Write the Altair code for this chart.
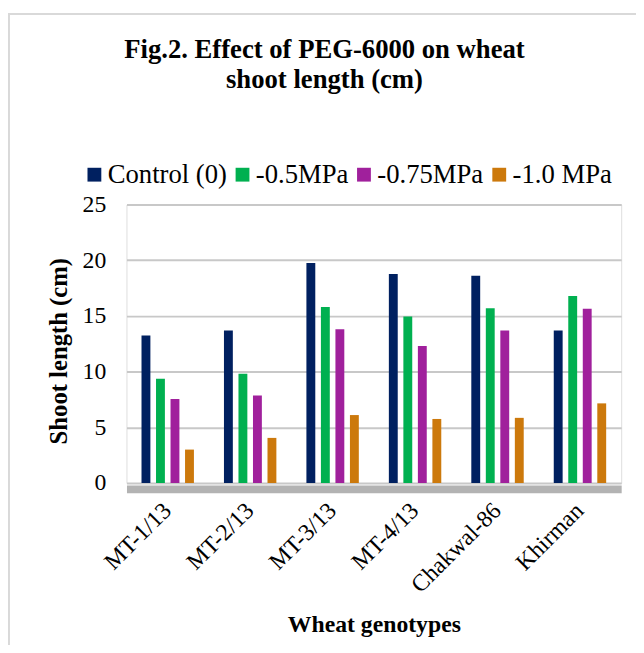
import altair as alt
import pandas as pd

genotypes = ["MT-1/13", "MT-2/13", "MT-3/13", "MT-4/13", "Chakwal-86", "Khirman"]
treatments = ["Control (0)", "-0.5MPa", "-0.75MPa", "-1.0 MPa"]
control = [13.25, 13.7, 19.75, 18.77, 18.6, 13.7]
mpa_05 = [9.35, 9.8, 15.8, 14.95, 15.7, 16.8]
mpa_075 = [7.55, 7.85, 13.8, 12.3, 13.7, 15.65]
mpa_10 = [3.0, 4.05, 6.1, 5.75, 5.85, 7.15]
colors = ["#002060", "#00B050", "#A0209C", "#CC790C"]
y_ticks = [0, 5, 10, 15, 20, 25]

series = [control, mpa_05, mpa_075, mpa_10]
rows = []
for t, vals in zip(treatments, series):
    for g, v in zip(genotypes, vals):
        rows.append({"genotype": g, "treatment": t, "value": v})
df = pd.DataFrame(rows)

FONT = "Liberation Serif"

bars = alt.Chart(df).mark_bar().encode(
    x=alt.X(
        "genotype:N",
        sort=genotypes,
        scale=alt.Scale(paddingInner=0.296, paddingOuter=0.148),
        title="Wheat genotypes",
        axis=alt.Axis(
            labelAngle=-45,
            labelAlign="right",
            labelBaseline="middle",
            labelFont=FONT,
            labelColor="black",
            labelFontSize=24,
            labelPadding=18,
            ticks=False,
            tickSize=0,
            domain=True,
            domainColor="#b3b3b3",
            domainWidth=8,
            offset=6,
            titleFont=FONT,
            titleColor="black",
            titleFontSize=24,
            titleFontWeight="bold",
            titleY=144,
            titleBaseline="alphabetic",
            grid=False,
        ),
    ),
    xOffset=alt.XOffset(
        "treatment:N",
        sort=treatments,
        scale=alt.Scale(paddingInner=0.388, paddingOuter=0.194),
    ),
    y=alt.Y(
        "value:Q",
        scale=alt.Scale(domain=[0, 25]),
        title="Shoot length (cm)",
        axis=alt.Axis(
            values=y_ticks,
            labelFont=FONT,
            labelColor="black",
            labelFontSize=24,
            labelPadding=21,
            ticks=False,
            tickSize=0,
            domain=False,
            grid=True,
            gridColor="#c8c8c8",
            gridWidth=2,
            titleFont=FONT,
            titleColor="black",
            titleFontSize=25,
            titleFontWeight="bold",
            titleX=-61,
            titleY=148,
            titleBaseline="alphabetic",
        ),
    ),
    color=alt.Color(
        "treatment:N",
        sort=treatments,
        scale=alt.Scale(domain=treatments, range=colors),
        legend=alt.Legend(
            title=None,
            orient="none",
            direction="horizontal",
            columns=4,
            legendX=-46,
            legendY=-44,
            symbolType="square",
            symbolSize=196,
            symbolStrokeWidth=0,
            symbolOpacity=1,
            labelFontSize=27,
            labelFont=FONT,
            labelColor="black",
            labelOffset=0,
            columnPadding=2,
        ),
    ),
)

frame_left = alt.Chart(alt.Data(values=[{}])).mark_rule(color="#d9d9d9", strokeWidth=2).encode(
    x=alt.value(-119), y=alt.value(-194), y2=alt.value(460)
)
frame_top = alt.Chart(alt.Data(values=[{}])).mark_rule(color="#d9d9d9", strokeWidth=2).encode(
    x=alt.value(-120), x2=alt.value(520), y=alt.value(-193)
)

chart = alt.layer(frame_left, frame_top, bars).properties(
    width=501,
    height=282,
    autosize=alt.AutoSizeParams(type="none"),
    padding={"left": 120, "top": 195, "right": 15, "bottom": 160},
    title=alt.Title(
        ["Fig.2. Effect of PEG-6000 on wheat", "shoot length (cm)"],
        font=FONT,
        fontSize=27,
        fontWeight="bold",
        lineHeight=30,
        anchor="middle",
        dx=-50,
        offset=-83,
        color="black",
    ),
).configure_view(
    stroke="#d0d0d0", strokeWidth=1.5
).configure(background="white")

chart.save("out.html", embed_options={"renderer": "svg", "actions": False})
